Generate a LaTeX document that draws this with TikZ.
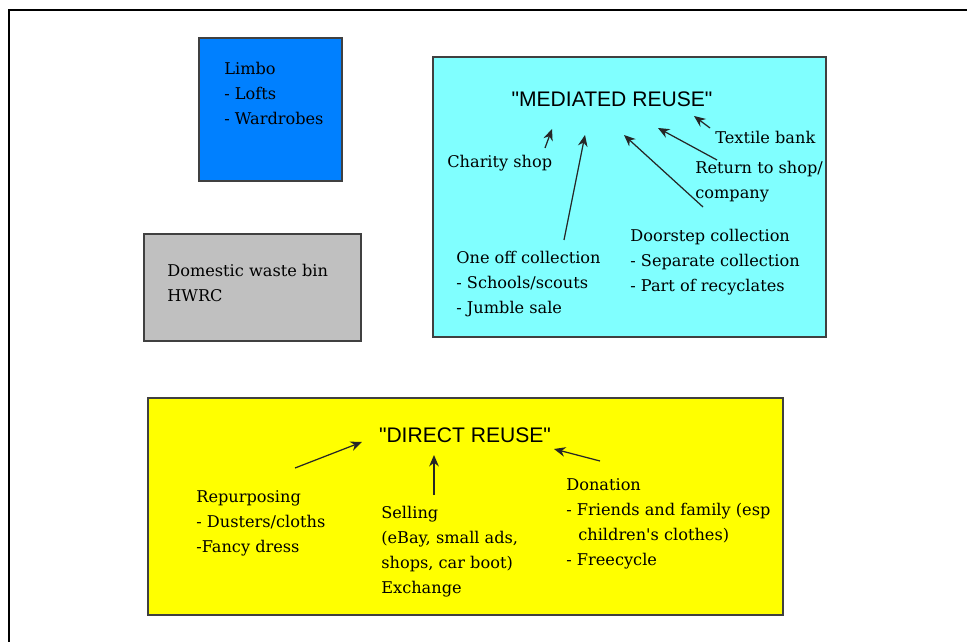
\documentclass[tikz,border=0pt]{standalone}
\usepackage{fontspec}
\setmainfont{DejaVu Serif}
\newfontfamily\headfont{Liberation Sans}
\usetikzlibrary{arrows.meta, positioning}
\definecolor{limboblue}{HTML}{0080FF}
\definecolor{binsgray}{HTML}{C0C0C0}
\definecolor{mediatedcyan}{HTML}{80FFFF}
\definecolor{directyellow}{HTML}{FFFF00}

\begin{document}
\begin{tikzpicture}[x=0.02cm, y=-0.02cm,
  box/.style={draw=black!75, line width=0.6pt},
  txt/.style={anchor=north west, inner sep=0pt, align=left, font=\fontsize{9.2}{14.2}\selectfont},
  head/.style={inner sep=0pt, font=\headfont\fontsize{12}{14}\selectfont},
  arr/.style={-{Stealth[length=6.5pt,width=5.5pt]}, line width=0.7pt, draw=black!85}]
\useasboundingbox (0,0) rectangle (967,642);
% outer frame (runs off the page right and bottom)
\draw[line width=1.2pt] (9,642) -- (9,10) -- (967,10);
% the four boxes
\draw[box, fill=limboblue] (199,38) rectangle (342,181);
\draw[box, fill=binsgray] (144,234) rectangle (361,341);
\draw[box, fill=mediatedcyan] (433,57) rectangle (826,337);
\draw[box, fill=directyellow] (148,398) rectangle (783,615);
% left boxes
\node[txt] (limbo) at (224,62) {Limbo\\- Lofts\\- Wardrobes};
\node[txt] (waste) at (167,264) {Domestic waste bin\\HWRC};
% mediated reuse
\node[head] (mediated) at (612,99) {"MEDIATED REUSE"};
\node[txt] (textile) at (715,131) {Textile bank};
\node[txt] (charity) at (447,155) {Charity shop};
\node[txt] (return) at (695,161) {Return to shop/\\company};
\node[txt] (oneoff) at (456,251) {One off collection\\- Schools/scouts\\- Jumble sale};
\node[txt] (doorstep) at (630,229) {Doorstep collection\\- Separate collection\\- Part of recyclates};
% direct reuse
\node[head] (direct) at (465,435) {"DIRECT REUSE"};
\node[txt] (repurp) at (196,490) {Repurposing\\- Dusters/cloths\\-Fancy dress};
\node[txt] (selling) at (381,506) {Selling\\(eBay, small ads,\\shops, car boot)\\Exchange};
\node[txt] (donation) at (566,478) {Donation\\- Friends and family (esp\\\hspace*{0.24cm}children\textquotesingle s clothes)\\- Freecycle};
% arrow ends
\coordinate (charity-t) at (545,148);  \coordinate (charity-h) at (552,129);
\coordinate (oneoff-t) at (564,240);   \coordinate (oneoff-h) at (585,135);
\coordinate (doorstep-t) at (703,207); \coordinate (doorstep-h) at (624,135);
\coordinate (return-t) at (717,160);   \coordinate (return-h) at (658,128);
\coordinate (textile-t) at (710,128);  \coordinate (textile-h) at (694,116);
\coordinate (repurp-t) at (295,468);   \coordinate (repurp-h) at (362,442);
\coordinate (selling-t) at (434,495);  \coordinate (selling-h) at (434,455);
\coordinate (donation-t) at (600,461); \coordinate (donation-h) at (554,449);
\foreach \n in {charity, oneoff, doorstep, return, textile, repurp, selling, donation}
  \draw[arr] (\n-t) -- (\n-h);
\end{tikzpicture}
\end{document}
